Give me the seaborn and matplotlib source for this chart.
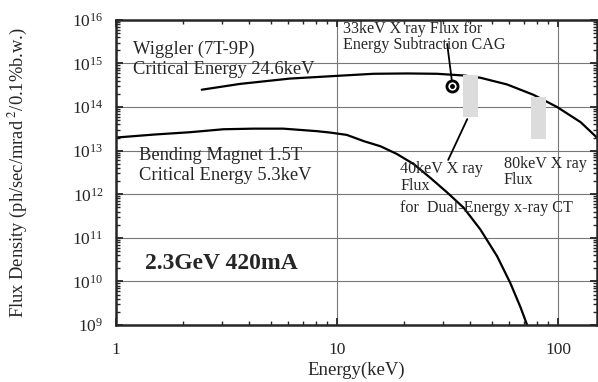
import numpy as np
import pandas as pd
import matplotlib
matplotlib.use('Agg')
import matplotlib.pyplot as plt
import seaborn as sns

# wiggler (7T-9P) spectrum
wig_energy = [2.44, 3.64, 6.1, 10, 14.6, 20.7, 28.2, 37.3, 44.4, 58.6, 77.3, 98.7, 126, 150]
wig_flux = [2.5e14, 3.4e14, 4.5e14, 5.2e14, 5.8e14, 5.9e14, 5.8e14, 5.3e14, 4.7e14,
            3.3e14, 1.9e14, 1.0e14, 4.5e13, 1.95e13]

# bending magnet 1.5T spectrum
bm_energy = [1, 1.5, 2.16, 3.06, 4.2, 5.7, 8.1, 9.3, 11.05, 13.2, 15.7, 18.6, 22.2, 26.3,
             31.4, 37.3, 44.4, 52.8, 60.6, 67.3, 72.2]
bm_flux = [2.0e13, 2.35e13, 2.65e13, 3.1e13, 3.2e13, 3.2e13, 2.8e13, 2.6e13, 2.3e13,
           1.65e13, 1.26e13, 8.4e12, 4.9e12, 2.4e12, 1.1e12, 4.9e11, 1.55e11, 3.8e10,
           9.2e9, 2.6e9, 1e9]

# 33 keV point for energy subtraction CAG
cag_energy = [33]
cag_flux = [3.0e14]

# flux bands for dual-energy CT (40 keV and 80 keV)
band_e_lo = [37.2, 75.5]
band_e_hi = [43.1, 87.5]
band_f_lo = [5.9e13, 1.9e13]
band_f_hi = [5.3e14, 1.7e14]

sns.set_style('ticks')
plt.rcParams['font.family'] = ['Liberation Serif', 'DejaVu Serif']
plt.rcParams['mathtext.fontset'] = 'stix'

df = pd.concat([
    pd.DataFrame({'Energy': wig_energy, 'Flux': wig_flux, 'src': 'wiggler'}),
    pd.DataFrame({'Energy': bm_energy, 'Flux': bm_flux, 'src': 'bm'}),
])

fig = plt.figure(figsize=(5.98, 3.82), dpi=100)
ax = fig.add_axes([0.194, 0.149, 0.805, 0.799])

for lo, hi, flo, fhi in zip(band_e_lo, band_e_hi, band_f_lo, band_f_hi):
    ax.fill_between([lo, hi], flo, fhi, color='#dcdcdc', lw=0, zorder=3)

sns.lineplot(data=df, x='Energy', y='Flux', units='src', estimator=None,
             color='black', lw=1.6, sort=False, ax=ax, zorder=2)

ax.plot(cag_energy, cag_flux, 'o', ms=8, mfc='white', mec='black', mew=2, zorder=5)
ax.plot(cag_energy, cag_flux, 'o', ms=2.5, color='black', zorder=6)

ax.set_xscale('log')
ax.set_yscale('log')
ax.set_xlim(1, 150)
ax.set_ylim(1e9, 1e16)
ax.grid(True, which='major', color='#777777', lw=0.8)
ax.set_axisbelow(True)
for s in ax.spines.values():
    s.set_linewidth(1.8)
ax.tick_params(which='both', direction='in', top=True, right=True, labelsize=12.5)
ax.tick_params(which='major', length=5, width=1.3)
ax.tick_params(axis='x', which='major', pad=12)
ax.tick_params(axis='y', which='major', pad=9)
ax.tick_params(which='minor', length=3, width=1)
ax.set_xticks([1, 10, 100])
ax.set_xticklabels(['1', '10', '100'])
ax.xaxis.set_minor_formatter(matplotlib.ticker.NullFormatter())
ax.yaxis.set_minor_locator(matplotlib.ticker.LogLocator(base=10, subs=np.arange(2, 10), numticks=20))
ax.yaxis.set_minor_formatter(matplotlib.ticker.NullFormatter())

ax.set_xlabel('Energy(keV)', fontsize=13.5, labelpad=3)
ax.set_ylabel('Flux Density (ph/sec/mrad$^{\\ 2}$/0.1%b.w.)', fontsize=13.3)
ax.yaxis.set_label_coords(-0.178, 0.5)

tk = dict(transform=ax.transAxes, fontsize=13.3, va='center', ha='left')
ax.text(0.035, 0.902, 'Wiggler (7T-9P)', **tk)
ax.text(0.035, 0.836, 'Critical Energy 24.6keV', **tk)
ax.text(0.048, 0.557, 'Bending Magnet 1.5T', **tk)
ax.text(0.048, 0.489, 'Critical Energy 5.3keV', **tk)
ax.text(0.06, 0.203, '2.3GeV 420mA', transform=ax.transAxes, fontsize=17,
        fontweight='bold', va='center', ha='left')

sk = dict(transform=ax.transAxes, fontsize=11.6, va='center', ha='left')
ax.text(0.472, 0.970, '33keV X ray Flux for', **sk)
ax.text(0.472, 0.918, 'Energy Subtraction CAG', **sk)
ax.text(0.590, 0.511, '40keV X ray', **sk)
ax.text(0.590, 0.456, 'Flux', **sk)
ax.text(0.590, 0.384, 'for  Dual-Energy x-ray CT', **sk)
ax.text(0.805, 0.528, '80keV X ray', **sk)
ax.text(0.805, 0.475, 'Flux', **sk)

ax.plot([0.6985, 0.688], [0.790, 0.921], color='black', lw=1.3, transform=ax.transAxes)
ax.plot([0.7297, 0.690], [0.675, 0.541], color='black', lw=1.3, transform=ax.transAxes)

fig.savefig('out.png', dpi=100)
